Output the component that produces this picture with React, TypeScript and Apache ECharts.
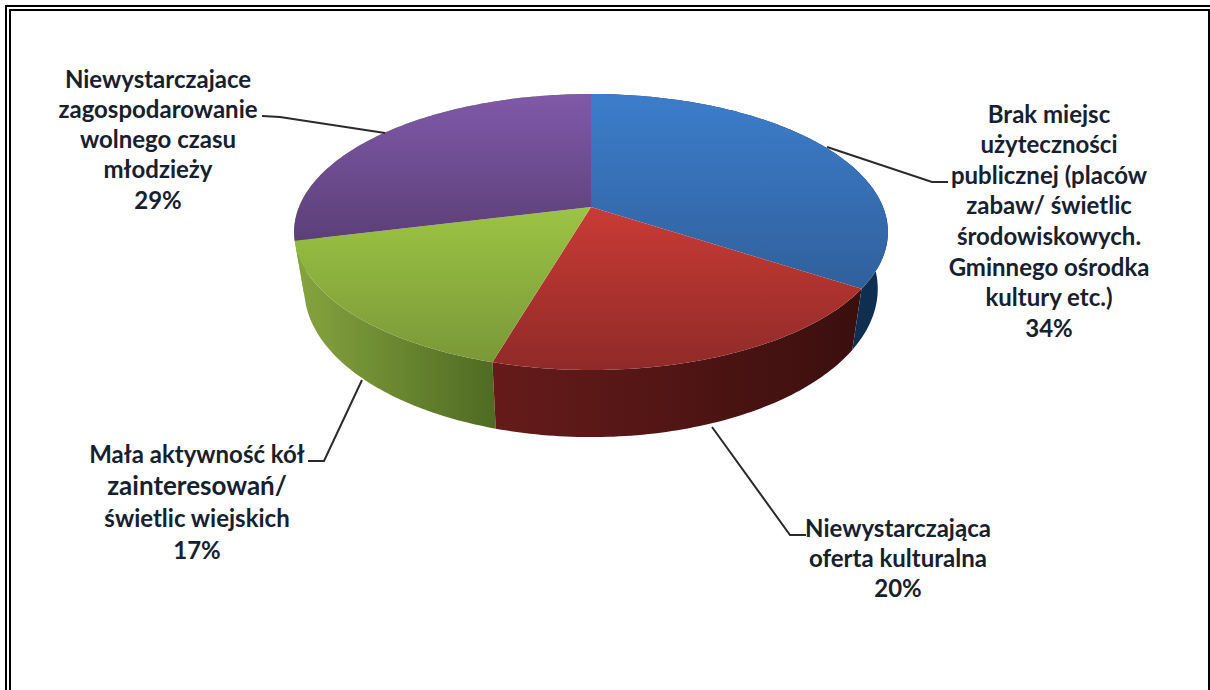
import React, { useEffect, useRef } from "react";
import * as echarts from "echarts";

const categories = [
  "Brak miejsc\nużyteczności\npublicznej (placów\nzabaw/ świetlic\nśrodowiskowych.\nGminnego ośrodka\nkultury etc.)",
  "Niewystarczająca\noferta kulturalna",
  "Mała aktywność kół\nzainteresowań/\nświetlic wiejskich",
  "Niewystarczajace\nzagospodarowanie\nwolnego czasu\nmłodzieży",
];
const values = [34.3, 20.2, 16.6, 28.9];
const topColors = [
  ["#3c7dcb", "#30609c"],
  ["#ca3b35", "#8f2a28"],
  ["#9cc444", "#7a9838"],
  ["#8059a9", "#5b3f77"],
];
const sideColors = [
  ["#0e2f50", "#17304f"],
  ["#661b1a", "#3a0f0e"],
  ["#86a53f", "#4f6a22"],
  ["#86a53f", "#86a53f"],
];
const labelAnchors = [
  [1049, 113],
  [898, 527],
  [197, 453],
  [158, 78],
];
const lineHeights = [30.6, 30.3, 32, 30.3];
const leaderLines = [
  [[827, 147], [932, 182], [948, 182]],
  [[712, 427], [790, 535], [806, 535]],
  [[362, 380], [324, 461], [308, 461]],
  [[385, 133], [280, 117], [262, 116]],
];

const FONT = "Lato, 'Open Sans', sans-serif";
const TOP_RING = { cx: 591, cy: 207, a: 133.5, b: 292, k: 0.181 };
const BOTTOM_RING = { cx: 591, cy: 262, a: 143.4, b: 282, k: 0.181 };

function project(frac: number, r: typeof TOP_RING) {
  const t = frac * Math.PI * 2;
  const w = 1 + r.k * Math.cos(t);
  return [r.cx + (r.b * Math.sin(t)) / w, r.cy - (r.a * Math.cos(t)) / w];
}

function arcPoints(from: number, to: number, r: typeof TOP_RING) {
  const pts: number[][] = [];
  const n = Math.max(2, Math.ceil((to - from) * 360));
  for (let i = 0; i <= n; i++) pts.push(project(from + ((to - from) * i) / n, r));
  return pts;
}

const total = values.reduce((s, v) => s + v, 0);

export default function App() {
  const ref = useRef<HTMLDivElement>(null);
  useEffect(() => {
    const chart = echarts.init(ref.current!, undefined, { renderer: "svg" });
    const starts: number[] = [];
    values.reduce((acc, v, i) => {
      starts[i] = acc / total;
      return acc + v;
    }, 0);
    const n = values.length;
    const seriesData = values.map((v, i) => ({ value: v, name: categories[i] }));

    chart.setOption({
      animation: false,
      backgroundColor: "#fff",
      graphic: [
        { type: "rect", shape: { x: 6, y: 6, width: 1220, height: 700 }, style: { fill: "none", stroke: "#000", lineWidth: 2 }, silent: true },
        { type: "rect", shape: { x: 10, y: 10, width: 1199, height: 700 }, style: { fill: "none", stroke: "#000", lineWidth: 2 }, silent: true },
      ],
      series: [
        {
          // side walls, drawn first and from the last slice back to the first
          type: "custom",
          coordinateSystem: "none",
          data: seriesData,
          renderItem: (params: any) => {
            const i = n - 1 - params.dataIndex;
            const from = starts[i];
            const to = from + values[i] / total;
            const top = arcPoints(from, to, TOP_RING);
            const bottom = arcPoints(from, to, BOTTOM_RING).reverse();
            const all = top.concat(bottom);
            const xs = all.map((p) => p[0]);
            const leftToRight = top[0][0] < top[top.length - 1][0];
            const c = sideColors[i];
            return {
              type: "polygon",
              shape: { points: all },
              style: {
                fill: new echarts.graphic.LinearGradient(
                  Math.min(...xs), 0, Math.max(...xs), 0,
                  [
                    { offset: 0, color: leftToRight ? c[1] : c[0] },
                    { offset: 1, color: leftToRight ? c[0] : c[1] },
                  ],
                  true
                ),
              },
            };
          },
          silent: true,
          z: 1,
        },
        {
          // top faces
          type: "custom",
          coordinateSystem: "none",
          data: seriesData,
          renderItem: (params: any) => {
            const i = params.dataIndex;
            const from = starts[i];
            const to = from + values[i] / total;
            const pts = [[TOP_RING.cx, TOP_RING.cy], ...arcPoints(from, to, TOP_RING)];
            const ys = pts.map((p) => p[1]);
            return {
              type: "polygon",
              shape: { points: pts },
              style: {
                fill: new echarts.graphic.LinearGradient(0, Math.min(...ys), 0, Math.max(...ys), [
                  { offset: 0, color: topColors[i][0] },
                  { offset: 1, color: topColors[i][1] },
                ], true),
              },
            };
          },
          silent: true,
          z: 2,
        },
        {
          // leader lines and labels
          type: "custom",
          coordinateSystem: "none",
          data: seriesData,
          renderItem: (params: any) => {
            const i = params.dataIndex;
            const lines = `${categories[i]}\n${Math.round(values[i])}%`.split("\n");
            return {
              type: "group",
              children: [
                {
                  type: "polyline",
                  shape: { points: leaderLines[i] },
                  style: { fill: "none", stroke: "#2a2a2a", lineWidth: 2 },
                },
                ...lines.map((t, j) => ({
                  type: "text",
                  x: labelAnchors[i][0],
                  y: labelAnchors[i][1] + j * lineHeights[i],
                  style: {
                    text: t,
                    fill: "#17202e",
                    font: `bold ${t === "zainteresowań/" ? 26 : 24}px ${FONT}`,
                    textAlign: "center",
                    textVerticalAlign: "middle",
                  },
                })),
              ],
            };
          },
          silent: true,
          z: 3,
        },
      ],
    });
    return () => chart.dispose();
  }, []);

  return (
    <div
      ref={ref}
      style={{ position: "fixed", left: 0, top: 0, width: 1210, height: 690, background: "#fff" }}
    />
  );
}
